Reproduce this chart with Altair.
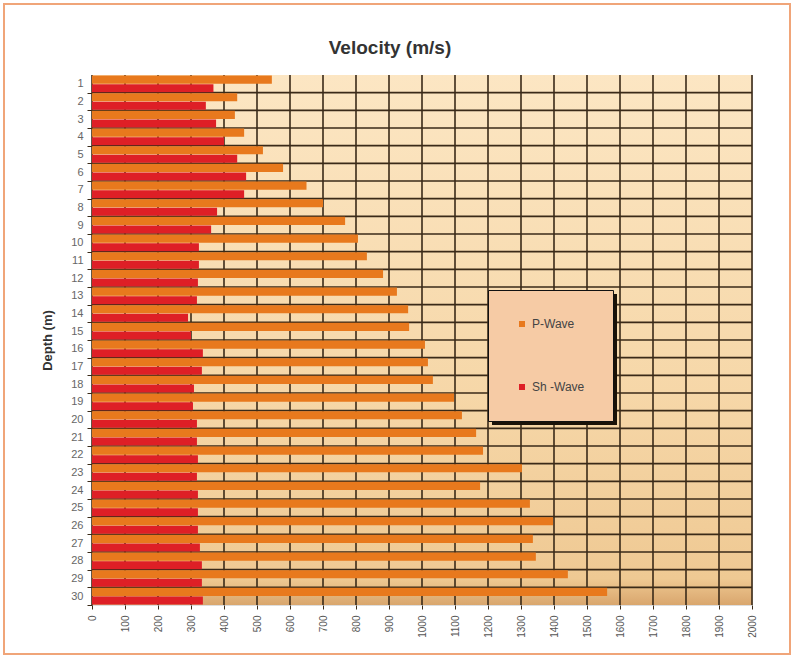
import altair as alt
import pandas as pd

# ---- data ----
depth = list(range(1, 31))
p_wave = [545, 440, 433, 461, 518, 579, 650, 700, 767, 806,
          833, 882, 924, 958, 961, 1009, 1018, 1033, 1097, 1121,
          1164, 1185, 1303, 1176, 1327, 1397, 1336, 1345, 1442, 1561]
sh_wave = [368, 345, 376, 400, 440, 467, 461, 379, 361, 324,
           324, 321, 318, 291, 300, 336, 333, 309, 306, 318,
           318, 321, 318, 321, 321, 321, 327, 333, 333, 336]
x_ticks = list(range(0, 2001, 100))
series = ["P-Wave", "Sh -Wave"]
colors = ["#E8791D", "#DE1F26"]

rows = []
for d, p, s in zip(depth, p_wave, sh_wave):
    rows.append({"depth": d, "wave": series[0], "velocity": p})
    rows.append({"depth": d, "wave": series[1], "velocity": s})
bars_df = pd.DataFrame(rows)
depth_df = pd.DataFrame({"depth": depth})
grid_df = pd.DataFrame({"v": x_ticks})

W, H = 660, 530
FONT = "Liberation Sans"
GRID = "#3A2A18"

xscale = alt.Scale(domain=[0, 2000], nice=False, zero=True)
yscale = alt.Scale(domain=[0.5, 30.5], reverse=True, nice=False, zero=False)

x_axis = alt.Axis(
    values=x_ticks, format="d", title=None, grid=False, domain=False,
    labelAngle=270, labelAlign="right", labelBaseline="middle",
    labelFontSize=10, labelColor="#555555", labelFont=FONT,
    labelPadding=6, tickSize=4, tickColor=GRID,
)
y_axis = alt.Axis(
    values=depth, format="d", title="Depth  (m)", grid=False,
    domain=False, labelFontSize=11, labelColor="#666666",
    labelFont=FONT, labelPadding=4, tickSize=5, tickColor=GRID,
    tickOffset=8.8, labelOffset=-8.8, titleFont=FONT, titleFontSize=13,
    titleFontWeight="bold", titleColor="#333333", titlePadding=16,
)

# outer frame (decorative)
frame = alt.Chart(depth_df).mark_rect(
    fill=None, stroke="#F0A57A", strokeWidth=1.5, clip=False
).encode(
    x=alt.value(-88), x2=alt.value(W + 38),
    y=alt.value(-71), y2=alt.value(H + 49)
)

# plot background gradient
bg = alt.Chart(depth_df).mark_rect(
    color=alt.Gradient(
        gradient="linear",
        stops=[
            alt.GradientStop(color="#FCE6C3", offset=0),
            alt.GradientStop(color="#F6D7A8", offset=0.6),
            alt.GradientStop(color="#EFC993", offset=0.95),
            alt.GradientStop(color="#D9A66D", offset=1),
        ],
        x1=0, x2=0, y1=0, y2=1,
    )
).encode(
    x=alt.value(0), x2=alt.value(W), y=alt.value(0), y2=alt.value(H)
)

vgrid = alt.Chart(grid_df).mark_rule(color=GRID, strokeWidth=1.6).encode(
    x=alt.X("v:Q", scale=xscale, axis=x_axis)
)

hgrid = alt.Chart(depth_df).transform_filter(
    "datum.depth > 1"
).transform_calculate(
    yb="datum.depth - 0.5"
).mark_rule(color=GRID, strokeWidth=1.6).encode(
    y=alt.Y("yb:Q", scale=yscale, axis=y_axis)
)

# legend drop shadow (decorative)
shadow = alt.Chart(depth_df).mark_rect(color="#1A1208", clip=False).encode(
    x=alt.value(400), x2=alt.value(525), y=alt.value(219), y2=alt.value(350)
)

bars = alt.Chart(bars_df).transform_calculate(
    y0="datum.wave == 'P-Wave' ? datum.depth - 0.47 : datum.depth + 0.02",
    y1="datum.wave == 'P-Wave' ? datum.depth - 0.01 : datum.depth + 0.47",
).mark_bar(stroke=None).encode(
    x=alt.X("velocity:Q", scale=xscale, axis=x_axis),
    x2=alt.datum(0),
    y=alt.Y("y0:Q", scale=yscale, axis=y_axis),
    y2="y1:Q",
    color=alt.Color(
        "wave:N",
        scale=alt.Scale(domain=series, range=colors),
        legend=alt.Legend(
            title=None, orient="none", legendX=396, legendY=215,
            fillColor="#F6CBA5", strokeColor="#111111",
            padding=28, rowPadding=51, symbolType="square", symbolSize=36,
            symbolStrokeWidth=0, labelFont=FONT, labelFontSize=12,
            labelColor="#444444", labelOffset=4,
        ),
    ),
)

chart = alt.layer(frame, bg, vgrid, hgrid, shadow, bars).properties(
    width=W, height=H,
    title=alt.TitleParams(
        "Velocity (m/s)", font=FONT, fontSize=19, fontWeight="bold",
        color="#333333", offset=0, dx=-32, dy=55, anchor="middle",
    ),
    padding={"left": 92, "top": 75, "right": 43, "bottom": 54},
    autosize=alt.AutoSizeParams(type="none"),
).configure_view(
    stroke="#4A3520", strokeWidth=1.5
).configure(background="white")

chart.save("out.html", embed_options={"renderer": "svg", "actions": False})
